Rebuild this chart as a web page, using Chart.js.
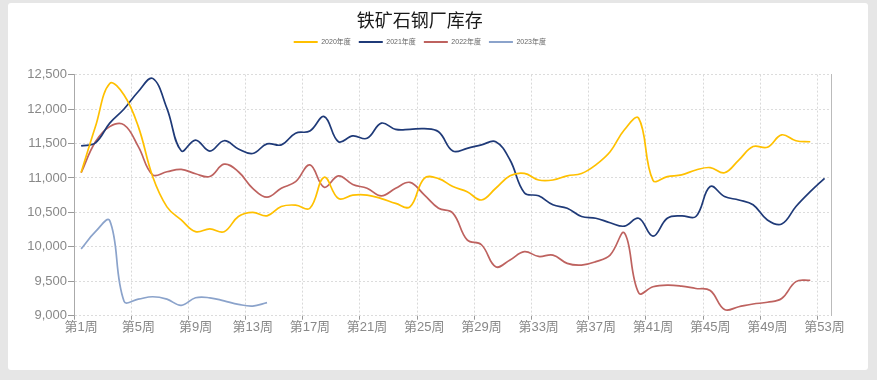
<!DOCTYPE html>
<html>
<head>
<meta charset="utf-8">
<script src="https://cdn.jsdelivr.net/npm/chart.js@4"></script>
<style>
  html, body { margin: 0; padding: 0; background: #e6e6e6; width: 877px; height: 380px; overflow: hidden; }
  #card { position: absolute; left: 8px; top: 3px; width: 860px; height: 367px; background: #fff; border-radius: 3px; }
  canvas { display: block; }
</style>
</head>
<body>
<div id="card"><canvas id="c" width="860" height="367"></canvas></div>
<script>
const weeks = ['第1周','第2周','第3周','第4周','第5周','第6周','第7周','第8周','第9周','第10周',
  '第11周','第12周','第13周','第14周','第15周','第16周','第17周','第18周','第19周','第20周',
  '第21周','第22周','第23周','第24周','第25周','第26周','第27周','第28周','第29周','第30周',
  '第31周','第32周','第33周','第34周','第35周','第36周','第37周','第38周','第39周','第40周',
  '第41周','第42周','第43周','第44周','第45周','第46周','第47周','第48周','第49周','第50周',
  '第51周','第52周','第53周'];

const seriesNames = ['2020年度', '2021年度', '2022年度', '2023年度'];

const y2020 = [11080, 11745, 12370, 12205, 11745, 11020, 10580, 10390, 10220, 10260,
  10220, 10440, 10500, 10450, 10585, 10605, 10560, 11010, 10700, 10750,
  10750, 10700, 10630, 10580, 10995, 10990, 10875, 10800, 10680, 10850,
  11030, 11065, 10970, 10970, 11030, 11065, 11190, 11380, 11700, 11866,
  10965, 11020, 11045, 11115, 11150, 11075, 11260, 11455, 11445, 11625,
  11540, 11525];

const y2021 = [11465, 11510, 11795, 12000, 12255, 12445, 12010, 11395, 11550, 11390,
  11540, 11420, 11355, 11495, 11480, 11650, 11680, 11890, 11525, 11610,
  11575, 11795, 11705, 11705, 11715, 11670, 11390, 11430, 11480, 11525,
  11260, 10785, 10740, 10610, 10560, 10440, 10415, 10350, 10300, 10415,
  10155, 10415, 10450, 10440, 10875, 10730, 10680, 10610, 10390, 10330,
  10585, 10800, 10995];

const y2022 = [11075, 11525, 11745, 11770, 11455, 11045, 11090, 11125, 11060, 11020,
  11200, 11090, 10850, 10720, 10850, 10945, 11190, 10865, 11030, 10905,
  10850, 10740, 10850, 10935, 10755, 10560, 10490, 10100, 10030, 9710,
  9810, 9930, 9860, 9880, 9760, 9735, 9785, 9880, 10200, 9330,
  9420, 9445, 9430, 9395, 9365, 9090, 9130, 9170, 9195, 9250,
  9495, 9515];

const y2023 = [9970, 10220, 10380, 9210, 9240, 9275, 9240, 9150, 9260, 9260,
  9215, 9165, 9140, 9190];

const yTicks = [9000, 9500, 10000, 10500, 11000, 11500, 12000, 12500];

const colors = ['#FFC000', '#1F3A78', '#BE625F', '#8BA3CB'];
const allSeries = [y2020, y2021, y2022, y2023];

const datasets = allSeries.map((d, i) => ({
  label: seriesNames[i],
  data: d,
  borderColor: colors[i],
  backgroundColor: colors[i],
  borderWidth: 1.7,
  pointRadius: 0,
  pointHoverRadius: 0,
  tension: 0.4,
  fill: false
}));

const legendGap = {
  id: 'legendGap',
  beforeInit(chart) {
    const orig = chart.legend.fit;
    chart.legend.fit = function () {
      orig.bind(chart.legend)();
      this.height += 19;
    };
  }
};

const labelFont = "'Liberation Sans', 'Noto Sans CJK SC', sans-serif";

new Chart(document.getElementById('c'), {
  type: 'line',
  data: { labels: weeks, datasets },
  plugins: [legendGap],
  options: {
    responsive: false,
    animation: false,
    events: [],
    layout: { padding: { left: 0, right: 36.3, top: 0, bottom: 0 } },
    plugins: {
      title: {
        display: true,
        text: '铁矿石钢厂库存',
        color: '#1a1a1a',
        font: { family: "'Noto Sans CJK SC', sans-serif", size: 18, weight: 'normal' },
        padding: { top: 6, bottom: 0 }
      },
      legend: {
        display: true,
        position: 'top',
        labels: {
          boxWidth: 24,
          boxHeight: 2,
          padding: 8,
          color: '#666',
          font: { family: labelFont, size: 7 },
          generateLabels(chart) {
            return Chart.defaults.plugins.legend.labels.generateLabels(chart).map(l =>
              Object.assign({}, l, { lineWidth: 0, fillStyle: l.strokeStyle }));
          }
        }
      },
      tooltip: { enabled: false }
    },
    scales: {
      x: {
        type: 'category',
        offset: true,
        afterFit(scale) { scale.height = 54.3; },
        grid: {
          display: true,
          offset: true,
          drawOnChartArea: true,
          color: (ctx) => (ctx.index % 4 === 0 && ctx.index < weeks.length) ? '#d9d9d9' : 'rgba(0,0,0,0)',
          tickColor: (ctx) => (ctx.index % 4 === 0 && ctx.index < weeks.length) ? '#999' : 'rgba(0,0,0,0)',
          tickLength: 4,
          lineWidth: 1
        },
        border: { display: false, dash: [2, 2] },
        ticks: {
          autoSkip: false,
          maxRotation: 0,
          minRotation: 0,
          padding: 0,
          color: '#888',
          font: { family: labelFont, size: 13 },
          callback: (val, idx) => (idx % 4 === 0 ? weeks[idx] : '')
        }
      },
      y: {
        position: 'left',
        min: yTicks[0],
        max: yTicks[yTicks.length - 1],
        afterFit(scale) { scale.width = 66; },
        afterBuildTicks(scale) { scale.ticks = yTicks.map(v => ({ value: v })); },
        grid: {
          color: '#dcdcdc',
          tickColor: '#999',
          tickLength: 6,
          lineWidth: 1
        },
        border: { display: true, color: '#aaa', width: 1, dash: [2, 2] },
        ticks: {
          padding: 1,
          color: '#888',
          font: { family: labelFont, size: 13 },
          callback: (v) => v.toLocaleString('en-US')
        }
      },
      y2: {
        position: 'right',
        display: true,
        grid: { display: false, drawTicks: false },
        ticks: { display: false },
        border: { display: true, color: '#bbb', width: 1 }
      }
    }
  }
});
</script>
</body>
</html>
